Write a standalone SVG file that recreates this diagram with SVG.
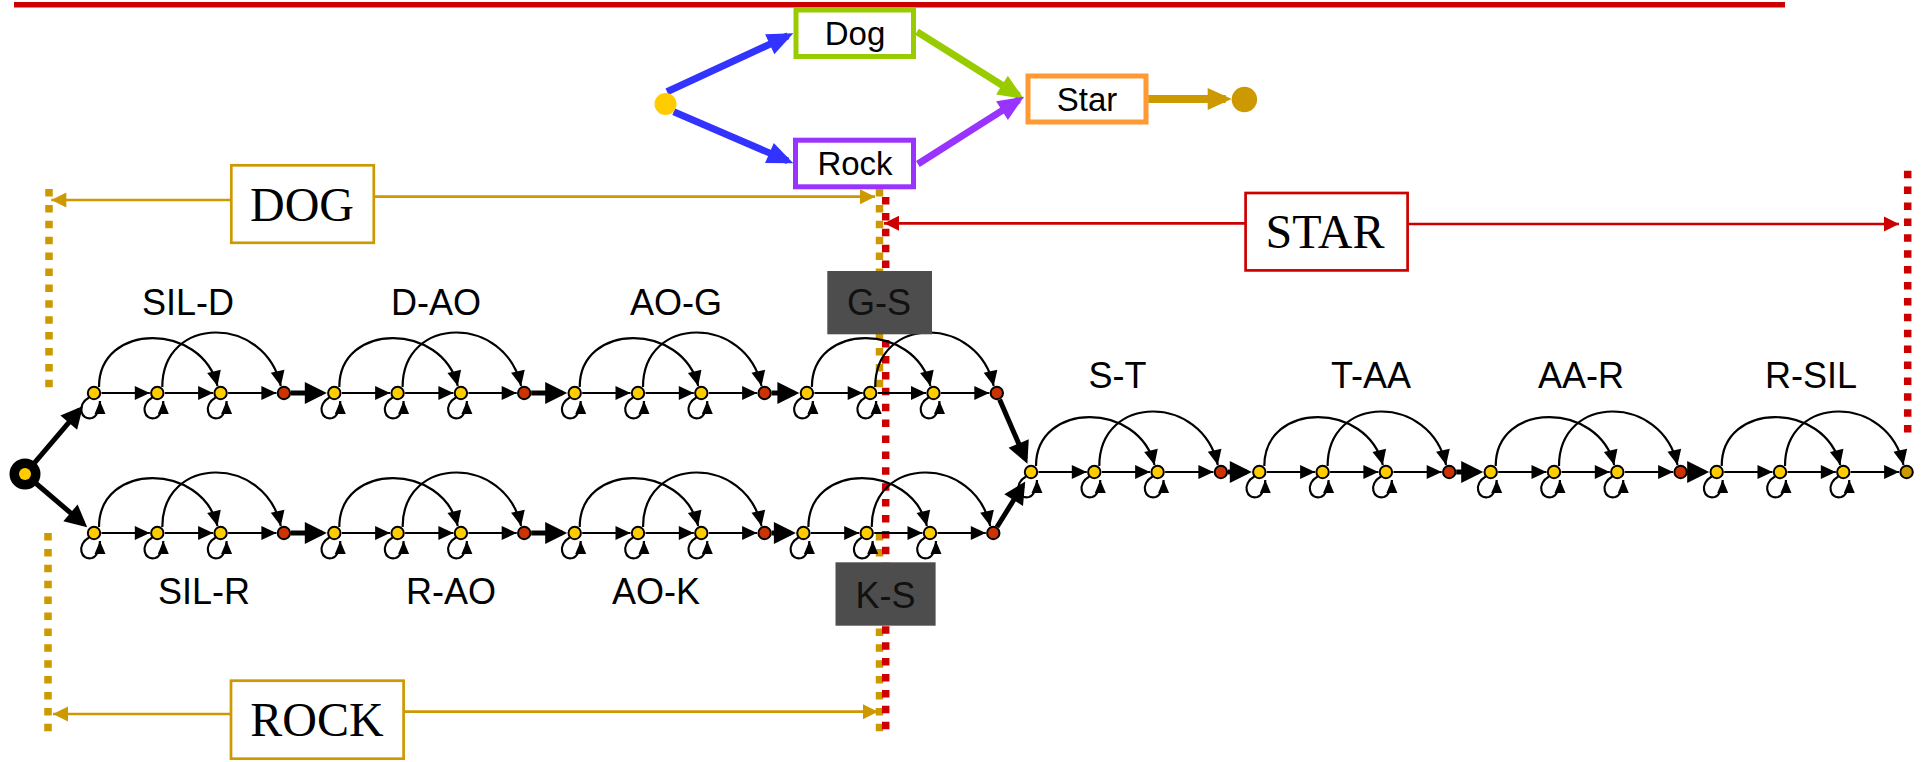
<svg xmlns="http://www.w3.org/2000/svg" xmlns:xlink="http://www.w3.org/1999/xlink" width="1925" height="762" viewBox="0 0 1925 762">
<style>
.n{fill:#FFCC00;stroke:#000;stroke-width:2}
.r{fill:#CC3300;stroke:#000;stroke-width:2}
.e{fill:#CC9900;stroke:#000;stroke-width:2}
.t{stroke:#000;stroke-width:2.2;fill:none;marker-end:url(#ah)}
.lp{stroke:#000;stroke-width:2.2;fill:none;marker-end:url(#ahl)}
.k{stroke:#000;stroke-width:5;fill:none;marker-end:url(#ahk)}
.lbl{font-family:"Liberation Sans",Arial,sans-serif;font-size:36px;text-anchor:middle;fill:#000}
.big{font-family:"Liberation Serif","Times New Roman",serif;font-size:48px;text-anchor:middle;fill:#000}
.wt{font-family:"Liberation Sans",Arial,sans-serif;font-size:33px;text-anchor:middle;fill:#000}
.gd{stroke:#CC9900;stroke-width:7.5;stroke-dasharray:7.5 8.4;fill:none}
.rd{stroke:#CC0000;stroke-width:7.5;stroke-dasharray:7.5 8.4;fill:none}
.ga{stroke:#CC9900;stroke-width:2.7;fill:none;marker-end:url(#mg)}
.ra{stroke:#CC0000;stroke-width:2.7;fill:none;marker-end:url(#mr)}
.dk{fill:#4D4D4D}
.dt{font-family:"Liberation Sans",Arial,sans-serif;font-size:36px;text-anchor:middle;fill:#111}
</style>
<defs>
<marker id="ah" markerUnits="userSpaceOnUse" markerWidth="15" markerHeight="14" refX="15" refY="7" orient="auto" overflow="visible"><path d="M0,0L15,7L0,14z" fill="#000"/></marker>
<marker id="ahl" markerUnits="userSpaceOnUse" markerWidth="13" markerHeight="11" refX="13" refY="5.5" orient="auto" overflow="visible"><path d="M0,0L13,5.5L0,11z" fill="#000"/></marker>
<marker id="ahk" markerUnits="userSpaceOnUse" markerWidth="22" markerHeight="22" refX="17" refY="11" orient="auto" overflow="visible"><path d="M0,0L22,11L0,22z" fill="#000"/></marker>
<marker id="mb" markerUnits="userSpaceOnUse" markerWidth="26" markerHeight="22" refX="20" refY="11" orient="auto" overflow="visible"><path d="M0,0L26,11L0,22z" fill="#3333FF"/></marker>
<marker id="mgr" markerUnits="userSpaceOnUse" markerWidth="26" markerHeight="22" refX="20" refY="11" orient="auto" overflow="visible"><path d="M0,0L26,11L0,22z" fill="#99CC00"/></marker>
<marker id="mp" markerUnits="userSpaceOnUse" markerWidth="26" markerHeight="22" refX="20" refY="11" orient="auto" overflow="visible"><path d="M0,0L26,11L0,22z" fill="#9933FF"/></marker>
<marker id="mo" markerUnits="userSpaceOnUse" markerWidth="24" markerHeight="22" refX="18" refY="11" orient="auto" overflow="visible"><path d="M0,0L24,11L0,22z" fill="#CC9900"/></marker>
<marker id="mg" markerUnits="userSpaceOnUse" markerWidth="15" markerHeight="15" refX="15" refY="7.5" orient="auto" overflow="visible"><path d="M0,0L15,7.5L0,15z" fill="#CC9900"/></marker>
<marker id="mr" markerUnits="userSpaceOnUse" markerWidth="15" markerHeight="15" refX="15" refY="7.5" orient="auto" overflow="visible"><path d="M0,0L15,7.5L0,15z" fill="#CC0000"/></marker>
<path id="loop" class="lp" d="M-5,4.5 C-18,12 -13,28 -2,25 C3,23.5 6,15 6,8"/>
<path id="arc1" class="t" d="M5,-6 C5,-71 108,-71 123.5,-7"/>
<path id="arc2" class="t" d="M68.3,-6 C68.3,-78.5 171.3,-78.5 186.8,-7"/>
</defs>

<rect width="1925" height="762" fill="#fff"/>
<line x1="14" y1="4.8" x2="1785" y2="4.8" stroke="#CC0000" stroke-width="5.5"/>

<!-- word graph -->
<g id="word-graph">
<g id="word-connectors">
<path d="M667,91.7 L787.9,35.8" stroke="#3333FF" stroke-width="7" fill="none" marker-end="url(#mb)"/>
<path d="M673.7,111.7 L787.8,160.9" stroke="#3333FF" stroke-width="7" fill="none" marker-end="url(#mb)"/>
<path d="M917,31.7 L1018.9,95.8" stroke="#99CC00" stroke-width="7" fill="none" marker-end="url(#mgr)"/>
<path d="M917.9,164 L1018.9,99.9" stroke="#9933FF" stroke-width="7" fill="none" marker-end="url(#mp)"/>
<path d="M1148.2,99 L1225.7,99" stroke="#CC9900" stroke-width="8" fill="none" marker-end="url(#mo)"/>
</g>
<g id="w-start"><circle cx="665.5" cy="104" r="11" fill="#FFCC00"/></g>
<g id="w-dog"><rect x="796" y="10" width="117.5" height="46.5" fill="#fff" stroke="#99CC00" stroke-width="5"/><text class="wt" x="855" y="45">Dog</text></g>
<g id="w-rock"><rect x="795.5" y="140.2" width="118" height="46.6" fill="#fff" stroke="#9933FF" stroke-width="5"/><text class="wt" x="855" y="175">Rock</text></g>
<g id="w-star"><rect x="1028" y="76" width="118" height="46" fill="#fff" stroke="#FF9933" stroke-width="5"/><text class="wt" x="1087" y="111">Star</text></g>
<g id="w-end"><circle cx="1244.4" cy="99.5" r="12.7" fill="#CC9900"/></g>
</g>

<!-- brackets -->
<g id="bracket-dog">
<line class="gd" x1="49" y1="189" x2="49" y2="390"/>
<line class="gd" x1="879.5" y1="189" x2="879.5" y2="390"/>
<path class="ga" d="M231,200 L51.3,200"/>
<path class="ga" d="M374,196.7 L875,196.7"/>
<rect x="231.3" y="165.3" width="142.5" height="77.5" fill="#fff" stroke="#CC9900" stroke-width="2.7"/>
<text class="big" x="302" y="220.7">DOG</text>
</g>
<g id="bracket-rock">
<line class="gd" x1="48" y1="533" x2="48" y2="733"/>
<line class="gd" x1="879.5" y1="533" x2="879.5" y2="733"/>
<path class="ga" d="M231,714 L53,714"/>
<path class="ga" d="M404,711.7 L878,711.7"/>
<rect x="231" y="680.7" width="172.6" height="78" fill="#fff" stroke="#CC9900" stroke-width="2.7"/>
<text class="big" x="317" y="736">ROCK</text>
</g>
<g id="bracket-star">
<line class="rd" x1="885.7" y1="197" x2="885.7" y2="737"/>
<line class="rd" x1="1907.7" y1="170.7" x2="1907.7" y2="435"/>
<path class="ra" d="M1245,223.3 L884,223.3"/>
<path class="ra" d="M1408,224 L1899,224"/>
<rect x="1245.6" y="193" width="162" height="77.4" fill="#fff" stroke="#CC0000" stroke-width="2.7"/>
<text class="big" x="1325" y="248.3">STAR</text>
</g>

<!-- HMM connectors -->
<g id="connectors">
<path class="k" d="M34.7,462.6 L79.8,409.7"/>
<path class="k" d="M36.4,483.75 L83.4,523.9"/>
<!-- top row -->
<path class="t" d="M101.5,393H149.8"/><path class="t" d="M164.8,393H213.1"/><path class="t" d="M228.1,393H276.4"/>
<path class="t" d="M341.8,393H390.1"/><path class="t" d="M405.1,393H453.4"/><path class="t" d="M468.4,393H516.7"/>
<path class="t" d="M582.2,393H630.5"/><path class="t" d="M645.5,393H693.8"/><path class="t" d="M708.8,393H757.1"/>
<path class="t" d="M814.4,393H862.7"/><path class="t" d="M877.7,393H926"/><path class="t" d="M941,393H989.3"/>
<path class="k" d="M290.9,393H321.8"/><path class="k" d="M531.2,393H562.2"/><path class="k" d="M771.6,393H794.4"/>
<!-- bottom row -->
<path class="t" d="M101.5,533H149.8"/><path class="t" d="M164.8,533H213.1"/><path class="t" d="M228.1,533H276.4"/>
<path class="t" d="M341.8,533H390.1"/><path class="t" d="M405.1,533H453.4"/><path class="t" d="M468.4,533H516.7"/>
<path class="t" d="M582.2,533H630.5"/><path class="t" d="M645.5,533H693.8"/><path class="t" d="M708.8,533H757.1"/>
<path class="t" d="M810.9,533H859.2"/><path class="t" d="M874.2,533H922.5"/><path class="t" d="M937.5,533H985.8"/>
<path class="k" d="M290.9,533H321.8"/><path class="k" d="M531.2,533H562.2"/><path class="k" d="M771.6,533H790.9"/>
<!-- merge -->
<path class="k" d="M999.6,399.4 L1025.4,459.1"/>
<path class="k" d="M997,527 L1022.6,485.7"/>
<!-- star row -->
<path class="t" d="M1038.5,472H1086.8"/><path class="t" d="M1101.8,472H1150.1"/><path class="t" d="M1165.1,472H1213.4"/>
<path class="t" d="M1266.8,472H1315.1"/><path class="t" d="M1330.1,472H1378.4"/><path class="t" d="M1393.4,472H1441.7"/>
<path class="t" d="M1498.2,472H1546.5"/><path class="t" d="M1561.5,472H1609.8"/><path class="t" d="M1624.8,472H1673.1"/>
<path class="t" d="M1724.2,472H1772.5"/><path class="t" d="M1787.5,472H1835.8"/><path class="t" d="M1850.8,472H1899.1"/>
<path class="k" d="M1227.9,472H1246.8"/><path class="k" d="M1456.2,472H1478.2"/><path class="k" d="M1687.6,472H1704.2"/>
<!-- arcs -->
<use href="#arc1" x="94" y="393"/><use href="#arc2" x="94" y="393"/>
<use href="#arc1" x="334.3" y="393"/><use href="#arc2" x="334.3" y="393"/>
<use href="#arc1" x="574.7" y="393"/><use href="#arc2" x="574.7" y="393"/>
<use href="#arc1" x="806.9" y="393"/><use href="#arc2" x="806.9" y="393"/>
<use href="#arc1" x="94" y="533"/><use href="#arc2" x="94" y="533"/>
<use href="#arc1" x="334.3" y="533"/><use href="#arc2" x="334.3" y="533"/>
<use href="#arc1" x="574.7" y="533"/><use href="#arc2" x="574.7" y="533"/>
<use href="#arc1" x="803.4" y="533"/><use href="#arc2" x="803.4" y="533"/>
<use href="#arc1" x="1031" y="472"/><use href="#arc2" x="1031" y="472"/>
<use href="#arc1" x="1259.3" y="472"/><use href="#arc2" x="1259.3" y="472"/>
<use href="#arc1" x="1490.7" y="472"/><use href="#arc2" x="1490.7" y="472"/>
<use href="#arc1" x="1716.7" y="472"/><use href="#arc2" x="1716.7" y="472"/>
<!-- self loops -->
<use href="#loop" x="94" y="393"/><use href="#loop" x="157.3" y="393"/><use href="#loop" x="220.6" y="393"/>
<use href="#loop" x="334.3" y="393"/><use href="#loop" x="397.6" y="393"/><use href="#loop" x="460.9" y="393"/>
<use href="#loop" x="574.7" y="393"/><use href="#loop" x="638" y="393"/><use href="#loop" x="701.3" y="393"/>
<use href="#loop" x="806.9" y="393"/><use href="#loop" x="870.2" y="393"/><use href="#loop" x="933.5" y="393"/>
<use href="#loop" x="94" y="533"/><use href="#loop" x="157.3" y="533"/><use href="#loop" x="220.6" y="533"/>
<use href="#loop" x="334.3" y="533"/><use href="#loop" x="397.6" y="533"/><use href="#loop" x="460.9" y="533"/>
<use href="#loop" x="574.7" y="533"/><use href="#loop" x="638" y="533"/><use href="#loop" x="701.3" y="533"/>
<use href="#loop" x="803.4" y="533"/><use href="#loop" x="866.7" y="533"/><use href="#loop" x="930" y="533"/>
<use href="#loop" x="1031" y="472"/><use href="#loop" x="1094.3" y="472"/><use href="#loop" x="1157.6" y="472"/>
<use href="#loop" x="1259.3" y="472"/><use href="#loop" x="1322.6" y="472"/><use href="#loop" x="1385.9" y="472"/>
<use href="#loop" x="1490.7" y="472"/><use href="#loop" x="1554" y="472"/><use href="#loop" x="1617.3" y="472"/>
<use href="#loop" x="1716.7" y="472"/><use href="#loop" x="1780" y="472"/><use href="#loop" x="1843.3" y="472"/>
</g>

<!-- HMM nodes -->
<g id="start"><circle cx="25" cy="474" r="15.5" fill="#000"/><circle cx="25" cy="474" r="6" fill="#FFCC00"/></g>
<g id="sil-d-1"><circle class="n" cx="94" cy="393" r="6.2"/></g>
<g id="sil-d-2"><circle class="n" cx="157.3" cy="393" r="6.2"/></g>
<g id="sil-d-3"><circle class="n" cx="220.6" cy="393" r="6.2"/></g>
<g id="sil-d-4"><circle class="r" cx="283.9" cy="393" r="6.2"/></g>
<g id="d-ao-1"><circle class="n" cx="334.3" cy="393" r="6.2"/></g>
<g id="d-ao-2"><circle class="n" cx="397.6" cy="393" r="6.2"/></g>
<g id="d-ao-3"><circle class="n" cx="460.9" cy="393" r="6.2"/></g>
<g id="d-ao-4"><circle class="r" cx="524.2" cy="393" r="6.2"/></g>
<g id="ao-g-1"><circle class="n" cx="574.7" cy="393" r="6.2"/></g>
<g id="ao-g-2"><circle class="n" cx="638" cy="393" r="6.2"/></g>
<g id="ao-g-3"><circle class="n" cx="701.3" cy="393" r="6.2"/></g>
<g id="ao-g-4"><circle class="r" cx="764.6" cy="393" r="6.2"/></g>
<g id="g-s-1"><circle class="n" cx="806.9" cy="393" r="6.2"/></g>
<g id="g-s-2"><circle class="n" cx="870.2" cy="393" r="6.2"/></g>
<g id="g-s-3"><circle class="n" cx="933.5" cy="393" r="6.2"/></g>
<g id="g-s-4"><circle class="r" cx="996.8" cy="393" r="6.2"/></g>
<g id="sil-r-1"><circle class="n" cx="94" cy="533" r="6.2"/></g>
<g id="sil-r-2"><circle class="n" cx="157.3" cy="533" r="6.2"/></g>
<g id="sil-r-3"><circle class="n" cx="220.6" cy="533" r="6.2"/></g>
<g id="sil-r-4"><circle class="r" cx="283.9" cy="533" r="6.2"/></g>
<g id="r-ao-1"><circle class="n" cx="334.3" cy="533" r="6.2"/></g>
<g id="r-ao-2"><circle class="n" cx="397.6" cy="533" r="6.2"/></g>
<g id="r-ao-3"><circle class="n" cx="460.9" cy="533" r="6.2"/></g>
<g id="r-ao-4"><circle class="r" cx="524.2" cy="533" r="6.2"/></g>
<g id="ao-k-1"><circle class="n" cx="574.7" cy="533" r="6.2"/></g>
<g id="ao-k-2"><circle class="n" cx="638" cy="533" r="6.2"/></g>
<g id="ao-k-3"><circle class="n" cx="701.3" cy="533" r="6.2"/></g>
<g id="ao-k-4"><circle class="r" cx="764.6" cy="533" r="6.2"/></g>
<g id="k-s-1"><circle class="n" cx="803.4" cy="533" r="6.2"/></g>
<g id="k-s-2"><circle class="n" cx="866.7" cy="533" r="6.2"/></g>
<g id="k-s-3"><circle class="n" cx="930" cy="533" r="6.2"/></g>
<g id="k-s-4"><circle class="r" cx="993.3" cy="533" r="6.2"/></g>
<g id="s-t-1"><circle class="n" cx="1031" cy="472" r="6.2"/></g>
<g id="s-t-2"><circle class="n" cx="1094.3" cy="472" r="6.2"/></g>
<g id="s-t-3"><circle class="n" cx="1157.6" cy="472" r="6.2"/></g>
<g id="s-t-4"><circle class="r" cx="1220.9" cy="472" r="6.2"/></g>
<g id="t-aa-1"><circle class="n" cx="1259.3" cy="472" r="6.2"/></g>
<g id="t-aa-2"><circle class="n" cx="1322.6" cy="472" r="6.2"/></g>
<g id="t-aa-3"><circle class="n" cx="1385.9" cy="472" r="6.2"/></g>
<g id="t-aa-4"><circle class="r" cx="1449.2" cy="472" r="6.2"/></g>
<g id="aa-r-1"><circle class="n" cx="1490.7" cy="472" r="6.2"/></g>
<g id="aa-r-2"><circle class="n" cx="1554" cy="472" r="6.2"/></g>
<g id="aa-r-3"><circle class="n" cx="1617.3" cy="472" r="6.2"/></g>
<g id="aa-r-4"><circle class="r" cx="1680.6" cy="472" r="6.2"/></g>
<g id="r-sil-1"><circle class="n" cx="1716.7" cy="472" r="6.2"/></g>
<g id="r-sil-2"><circle class="n" cx="1780" cy="472" r="6.2"/></g>
<g id="r-sil-3"><circle class="n" cx="1843.3" cy="472" r="6.2"/></g>
<g id="r-sil-4"><circle class="e" cx="1906.6" cy="472" r="6.2"/></g>

<!-- labels -->
<g id="labels">
<text class="lbl" x="188" y="315">SIL-D</text>
<text class="lbl" x="436" y="315">D-AO</text>
<text class="lbl" x="676" y="315">AO-G</text>
<text class="lbl" x="204" y="604">SIL-R</text>
<text class="lbl" x="451" y="604">R-AO</text>
<text class="lbl" x="656" y="604">AO-K</text>
<text class="lbl" x="1117.5" y="388">S-T</text>
<text class="lbl" x="1371" y="388">T-AA</text>
<text class="lbl" x="1581" y="388">AA-R</text>
<text class="lbl" x="1811" y="388">R-SIL</text>
</g>
<g id="label-g-s"><rect class="dk" x="827.3" y="271" width="104.7" height="63.3"/><text class="dt" x="879" y="315">G-S</text></g>
<g id="label-k-s"><rect class="dk" x="835.5" y="562.3" width="100.1" height="63.4"/><text class="dt" x="885.5" y="608">K-S</text></g>
</svg>
